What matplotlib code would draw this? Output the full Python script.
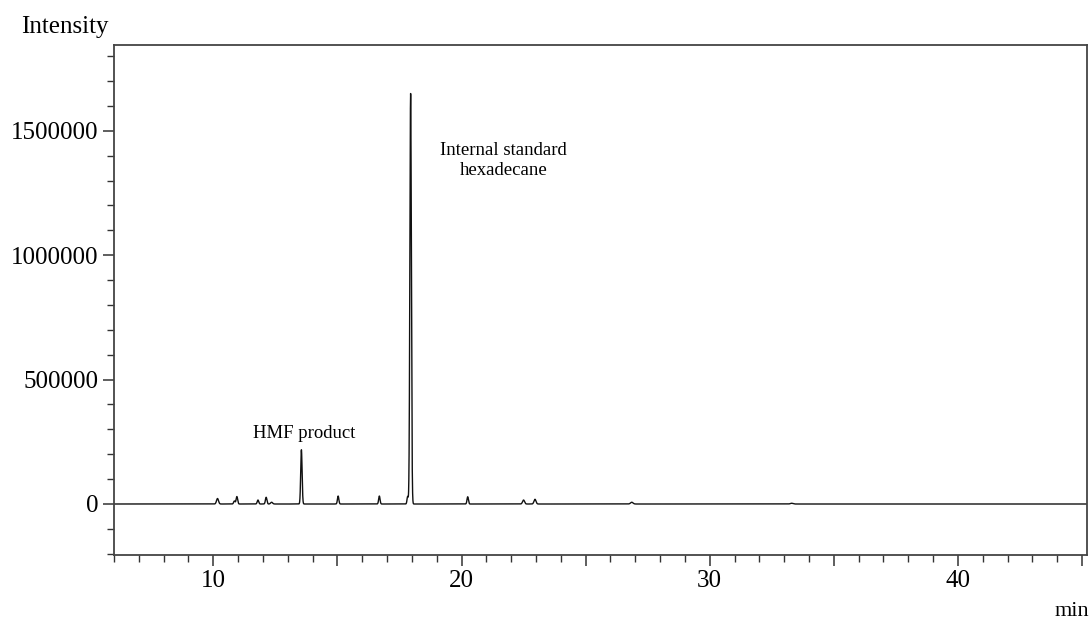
"""GC chromatogram: HMF product with hexadecane internal standard."""

import matplotlib

matplotlib.use("Agg")
import matplotlib.pyplot as plt
import numpy as np
from matplotlib.ticker import FuncFormatter, MultipleLocator

# peaks: retention time (min), height, width (sigma, min)
peak_times = [10.17, 10.85, 10.95, 11.80, 12.13, 12.35, 13.55, 15.03, 16.69,
              17.83, 17.95, 20.25, 22.50, 22.96, 26.86, 33.30]
peak_heights = [22000, 12000, 30000, 16000, 27000, 7000, 218000, 32000, 32000,
                30000, 1650000, 29000, 16000, 19000, 7000, 3000]
peak_widths = [0.04, 0.03, 0.03, 0.03, 0.03, 0.04, 0.028, 0.028, 0.028,
               0.025, 0.03, 0.028, 0.04, 0.04, 0.05, 0.05]

x_range = (6, 45.2)
y_range = (-205000, 1845000)

plt.rcParams["font.family"] = ["Liberation Serif", "DejaVu Serif"]

fig = plt.figure(figsize=(10.92, 6.25), dpi=100)
ax = fig.add_axes([114 / 1092, 70 / 625, 973 / 1092, 510 / 625])

t = np.linspace(x_range[0], x_range[1], 60000)
signal = np.zeros_like(t)
for rt, h, w in zip(peak_times, peak_heights, peak_widths):
    signal += h * np.exp(-0.5 * ((t - rt) / w) ** 2)

ax.plot(t, signal, color="#111111", lw=1.0)

ax.set_xlim(*x_range)
ax.set_ylim(*y_range)

ax.xaxis.set_major_locator(MultipleLocator(5))
ax.xaxis.set_minor_locator(MultipleLocator(1))
ax.xaxis.set_major_formatter(FuncFormatter(lambda v, _: f"{v:.0f}" if v % 10 == 0 else ""))
ax.yaxis.set_major_locator(MultipleLocator(500000))
ax.yaxis.set_minor_locator(MultipleLocator(100000))
ax.yaxis.set_major_formatter(FuncFormatter(lambda v, _: f"{v:.0f}"))

ax.tick_params(which="major", length=8, width=1.1, color="#333333", labelsize=18, pad=3)
ax.tick_params(which="minor", length=5, width=1.0, color="#333333")
for s in ax.spines.values():
    s.set_color("#444444")
    s.set_linewidth(1.3)

ax.text(13.66, 266000, "HMF product", fontsize=13.5, ha="center", va="baseline")
ax.text(21.7, 1401700, "Internal standard", fontsize=13.5, ha="center", va="baseline")
ax.text(21.7, 1321400, "hexadecane", fontsize=13.5, ha="center", va="baseline")

fig.text(21 / 1092, 1 - 33 / 625, "Intensity", fontsize=18, ha="left", va="baseline")
fig.text(1089 / 1092, 1 - 616 / 625, "min", fontsize=16, ha="right", va="baseline")

fig.savefig("out.png", dpi=100, facecolor="white")
